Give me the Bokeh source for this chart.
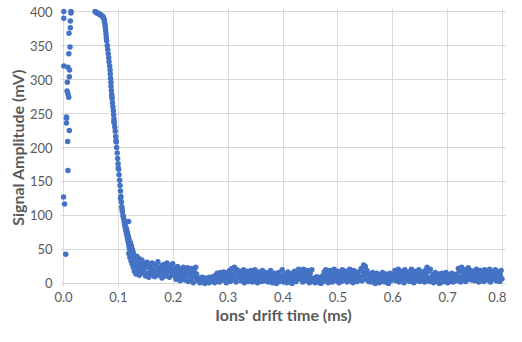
from bokeh.plotting import figure
from bokeh.models import Range1d, FixedTicker, NumeralTickFormatter
from bokeh.embed import file_html
from bokeh.resources import INLINE

# ---- data ----
x_ticks = [0.0, 0.1, 0.2, 0.3, 0.4, 0.5, 0.6, 0.7, 0.8]
y_ticks = [0, 50, 100, 150, 200, 250, 300, 350, 400]

# scattered early points near t = 0
early_x = [0.0005, 0.0136, 0.0136, 0.0005, 0.0124, 0.0124, 0.0100, 0.0118, 0.0097,
           0.0005, 0.0080, 0.0110, 0.0106, 0.0070, 0.0065, 0.0080, 0.0095,
           0.0053, 0.0055, 0.0053, 0.0106, 0.0076, 0.0080, 0.0000, 0.0018, 0.0040]
early_y = [400, 400, 398, 390, 386, 376, 368, 348, 338,
           320, 318, 314, 304, 296, 283, 279, 274,
           245, 243, 236, 225, 209, 166, 127, 117, 43]

# main signal decay
peak_x = [0.0575, 0.0590, 0.0605, 0.0620, 0.0635, 0.0650, 0.0665, 0.0680, 0.0695, 0.0710,
          0.0722, 0.0732, 0.0742, 0.0748, 0.0755, 0.0762, 0.0768, 0.0774, 0.0780, 0.0786,
          0.0798, 0.0806, 0.0816, 0.0824, 0.0830, 0.0840, 0.0848, 0.0852, 0.0858, 0.0864,
          0.0866, 0.0872, 0.0878, 0.0886, 0.0892, 0.0900, 0.0908, 0.0914, 0.0920, 0.0926,
          0.0934, 0.0942, 0.0950, 0.0960, 0.0968, 0.0978, 0.0986, 0.0994, 0.1004, 0.1012,
          0.1022, 0.1030, 0.1038, 0.1046, 0.1054, 0.1062, 0.1072, 0.1084, 0.1096, 0.1106,
          0.1116, 0.1126, 0.1136, 0.1146, 0.1156, 0.1166, 0.1176, 0.1186, 0.1196, 0.1206,
          0.1216, 0.1228, 0.1240, 0.1252, 0.1266, 0.1280,
          0.0880, 0.0918, 0.0956, 0.0998, 0.1040, 0.1066, 0.1090, 0.1112, 0.1186, 0.1130,
          0.1148, 0.1160, 0.1172, 0.1184, 0.1194, 0.1204, 0.1214, 0.1226, 0.1236, 0.1246,
          0.1258, 0.1270, 0.1284, 0.1296, 0.1310, 0.1220, 0.1238, 0.1256, 0.1274, 0.1292]
peak_y = [400, 399, 398, 398, 397, 396, 396, 395, 394, 393,
          392, 390, 388, 385, 381, 377, 372, 367, 362, 357,
          350, 344, 338, 332, 326, 320, 314, 308, 302, 296,
          290, 284, 278, 272, 266, 260, 254, 248, 242, 236,
          230, 224, 216, 208, 200, 192, 184, 176, 168, 160,
          152, 144, 136, 128, 120, 113, 106, 100, 95, 90,
          86, 82, 78, 74, 70, 66, 62, 58, 55, 52,
          49, 46, 42, 38, 34, 30,
          275, 238, 210, 170, 125, 110, 98, 92, 91, 84,
          80, 76, 72, 68, 64, 61, 57, 54, 50, 47,
          44, 40, 37, 34, 31, 60, 55, 50, 45, 40]

# noisy baseline after the peak
base_x = [0.1190, 0.1200, 0.1210, 0.1220, 0.1230, 0.1240, 0.1250, 0.1260, 0.1270, 0.1280, 0.1290,
          0.1300, 0.1310, 0.1320, 0.1330, 0.1340, 0.1350, 0.1360, 0.1370, 0.1380, 0.1390,
          0.1400, 0.1410, 0.1420, 0.1430, 0.1440, 0.1450,
          0.1465, 0.1480, 0.1495, 0.1510, 0.1525, 0.1540, 0.1555, 0.1570, 0.1585, 0.1600,
          0.1615, 0.1630, 0.1645, 0.1660, 0.1675, 0.1690, 0.1705, 0.1720, 0.1735, 0.1750,
          0.1765, 0.1780, 0.1795, 0.1810, 0.1825, 0.1840, 0.1855, 0.1870, 0.1885, 0.1900,
          0.1915, 0.1930, 0.1945, 0.1960, 0.1975, 0.1990, 0.2005,
          0.2020, 0.2035, 0.2050, 0.2065, 0.2080, 0.2095, 0.2110, 0.2125, 0.2140, 0.2155,
          0.2170, 0.2185, 0.2200, 0.2215, 0.2230, 0.2245, 0.2260, 0.2275, 0.2290, 0.2305,
          0.2320, 0.2335, 0.2350, 0.2365, 0.2380, 0.2395, 0.2410, 0.2425, 0.2440,
          0.2455, 0.2470, 0.2485, 0.2500, 0.2515, 0.2530, 0.2545, 0.2560, 0.2575, 0.2590,
          0.2605, 0.2620, 0.2635, 0.2650, 0.2665, 0.2680, 0.2695,
          0.2710, 0.2725, 0.2740, 0.2755, 0.2770, 0.2785, 0.2800, 0.2815, 0.2830, 0.2845,
          0.2860, 0.2875, 0.2890, 0.2905, 0.2920, 0.2935, 0.2950, 0.2965, 0.2980, 0.2995,
          0.3010, 0.3025, 0.3040, 0.3055, 0.3070, 0.3085, 0.3100, 0.3115, 0.3130, 0.3145,
          0.3160, 0.3175, 0.3190, 0.3205,
          0.3220, 0.3235, 0.3250, 0.3265, 0.3280, 0.3295, 0.3310, 0.3325, 0.3340, 0.3355,
          0.3370, 0.3385, 0.3400, 0.3415, 0.3430, 0.3445, 0.3460, 0.3475, 0.3490, 0.3505,
          0.3520, 0.3535, 0.3550, 0.3565, 0.3580, 0.3595, 0.3610, 0.3625, 0.3640, 0.3655,
          0.3670, 0.3685, 0.3700,
          0.3715, 0.3730, 0.3745, 0.3760, 0.3775, 0.3790, 0.3805, 0.3820, 0.3835, 0.3850,
          0.3865, 0.3880, 0.3895, 0.3910, 0.3925, 0.3940, 0.3955, 0.3970, 0.3985, 0.4000,
          0.4015, 0.4030, 0.4045, 0.4060, 0.4075, 0.4090, 0.4105, 0.4120, 0.4135, 0.4150,
          0.4165, 0.4180, 0.4195, 0.4210, 0.4225, 0.4240, 0.4255, 0.4270, 0.4285, 0.4300,
          0.4315, 0.4330, 0.4345, 0.4360, 0.4375, 0.4390, 0.4405, 0.4420, 0.4435, 0.4450,
          0.4465, 0.4480, 0.4495, 0.4510, 0.4525, 0.4540,
          0.4555, 0.4570, 0.4585, 0.4600, 0.4615, 0.4630, 0.4645, 0.4660, 0.4675, 0.4690, 0.4705,
          0.4720, 0.4735, 0.4750, 0.4765, 0.4780, 0.4795, 0.4810, 0.4825, 0.4840, 0.4855,
          0.4870, 0.4885, 0.4900, 0.4915, 0.4930, 0.4945, 0.4960, 0.4975, 0.4990, 0.5005,
          0.5020, 0.5035, 0.5050, 0.5065, 0.5080, 0.5095, 0.5110, 0.5125, 0.5140, 0.5155,
          0.5170, 0.5185, 0.5200, 0.5215, 0.5230, 0.5245, 0.5260, 0.5275, 0.5290, 0.5305,
          0.5320, 0.5335, 0.5350, 0.5365, 0.5380, 0.5395,
          0.5410, 0.5425, 0.5440, 0.5455, 0.5470, 0.5485, 0.5500, 0.5515, 0.5530, 0.5545, 0.5560,
          0.5575, 0.5590, 0.5605, 0.5620, 0.5635, 0.5650, 0.5665, 0.5680, 0.5695, 0.5710,
          0.5725, 0.5740, 0.5755, 0.5770, 0.5785, 0.5800, 0.5815, 0.5830, 0.5845, 0.5860,
          0.5875, 0.5890, 0.5905, 0.5920, 0.5935, 0.5950, 0.5965, 0.5980, 0.5995, 0.6010,
          0.6025, 0.6040, 0.6055, 0.6070, 0.6085, 0.6100, 0.6115, 0.6130, 0.6145, 0.6160,
          0.6175, 0.6190, 0.6205, 0.6220, 0.6235, 0.6250, 0.6265, 0.6280, 0.6295, 0.6310,
          0.6325, 0.6340, 0.6355, 0.6370, 0.6385, 0.6400, 0.6415, 0.6430, 0.6445, 0.6460,
          0.6475, 0.6490, 0.6505, 0.6520, 0.6535, 0.6550, 0.6565, 0.6580, 0.6595,
          0.6610, 0.6625, 0.6640, 0.6655, 0.6670, 0.6685, 0.6700,
          0.6715, 0.6730, 0.6745, 0.6760, 0.6775, 0.6790, 0.6805, 0.6820, 0.6835, 0.6850,
          0.6865, 0.6880, 0.6895, 0.6910, 0.6925, 0.6940, 0.6955, 0.6970, 0.6985, 0.7000,
          0.7015, 0.7030, 0.7045, 0.7060, 0.7075, 0.7090, 0.7105, 0.7120, 0.7135, 0.7150,
          0.7165, 0.7180, 0.7195, 0.7210, 0.7225, 0.7240, 0.7255, 0.7270, 0.7285, 0.7300,
          0.7315, 0.7330, 0.7345, 0.7360, 0.7375, 0.7390, 0.7405, 0.7420, 0.7435, 0.7450,
          0.7465, 0.7480, 0.7495, 0.7510, 0.7525, 0.7540, 0.7555, 0.7570, 0.7585, 0.7600,
          0.7615, 0.7630, 0.7645, 0.7660, 0.7675, 0.7690, 0.7705, 0.7720, 0.7735, 0.7750,
          0.7765, 0.7780, 0.7795, 0.7810, 0.7825, 0.7840, 0.7855, 0.7870, 0.7885, 0.7900,
          0.7915, 0.7930, 0.7945, 0.7960, 0.7975, 0.7990]
base_y = [44, 52, 38, 47, 33, 42, 29, 36, 24, 31, 18,
          20, 37, 14, 28, 40, 17, 33, 24, 12, 36,
          21, 29, 15, 34, 19, 26,
          18, 29, 11, 24, 31, 15, 9, 25, 21, 13,
          30, 17, 22, 10, 27, 19, 14, 32, 12, 23,
          16, 26, 8, 20, 28, 14, 24, 11, 30, 18,
          22, 9, 26, 15, 20, 29, 12,
          14, 22, 6, 17, 25, 10, 19, 4, 21, 13,
          8, 24, 16, 5, 20, 11, 23, 3, 15, 18,
          7, 22, 12, 1, 19, 9, 24, 14, 5,
          4, 8, 1, 6, 2, 9, 3, 7, 0, 5,
          8, 2, 6, 1, 9, 4, 7,
          3, 10, 6, 1, 12, 8, 15, 4, 11, 2,
          16, 9, 13, 5, 17, 7, 14, 1, 10, 16,
          8, 19, 3, 14, 22, 11, 6, 24, 16, 2,
          20, 9, 13, 18,
          12, 4, 17, 9, 20, 1, 14, 7, 18, 11,
          3, 16, 6, 19, 10, 2, 13, 8, 20, 5,
          15, 1, 11, 17, 7, 14, 3, 19, 9, 12,
          4, 16, 6,
          10, 2, 14, 6, 19, 8, 1, 12, 4, 15,
          9, 0, 13, 7, 16, 3, 11, 5, 20, 9,
          2, 14, 6, 12, 1, 17, 8, 4, 13, 10,
          0, 15, 5, 18, 11, 3, 16, 7, 21, 12,
          6, 18, 10, 2, 21, 13, 7, 16, 4, 19,
          11, 1, 15, 8, 20, 5,
          3, 8, 1, 6, 10, 2, 7, 4, 9, 0, 5,
          11, 3, 17, 8, 20, 5, 14, 1, 12, 19,
          7, 15, 2, 10, 21, 6, 13, 4, 18, 9,
          1, 16, 11, 3, 20, 7, 14, 5, 18, 10,
          2, 13, 8, 21, 4, 16, 12, 1, 19, 6,
          15, 9, 3, 17, 11, 7,
          9, 22, 4, 17, 27, 12, 25, 6, 19, 14, 3,
          7, 14, 2, 10, 16, 4, 12, 0, 8, 15,
          5, 11, 1, 13, 9, 3, 16, 6, 10, 2,
          14, 7, 12, 0, 9, 15, 4, 11, 6, 13,
          10, 19, 4, 14, 8, 21, 2, 16, 11, 6,
          18, 13, 1, 20, 9, 15, 5, 12, 17, 3,
          10, 21, 7, 14, 1, 18, 11, 5, 16, 8,
          20, 3, 13, 9, 17, 6, 12, 2, 19,
          12, 24, 6, 18, 3, 21, 9,
          5, 13, 1, 9, 16, 7, 11, 3, 14, 0,
          10, 6, 15, 2, 12, 8, 4, 16, 9, 1,
          13, 6, 11, 3, 15, 8, 2, 12, 5, 10,
          14, 4, 22, 9, 18, 2, 24, 11, 7, 20,
          15, 3, 17, 10, 23, 6, 13, 19, 5, 16,
          9, 18, 4, 13, 21, 7, 15, 2, 11, 19,
          6, 16, 10, 3, 20, 12, 5, 17, 8, 14,
          21, 2, 11, 18, 6, 13, 9, 20, 4, 15,
          10, 17, 3, 12, 19, 7]

all_x = early_x + peak_x + base_x
all_y = early_y + peak_y + base_y

GRAY = "#595959"
FONT = "Lato"

p = figure(width=506, height=326,
           x_range=Range1d(-0.0055, 0.8073), y_range=Range1d(-4.5, 404.5),
           output_backend="svg", toolbar_location=None, min_border=0,
           min_border_left=60, min_border_right=0, min_border_top=8, min_border_bottom=0)
p.outline_line_color = None
p.background_fill_color = "white"
p.border_fill_color = "white"

p.scatter(all_x, all_y, size=5.5, fill_color="#4472C4", line_color="#4472C4", line_width=0)

p.xaxis.ticker = FixedTicker(ticks=x_ticks)
p.xaxis.formatter = NumeralTickFormatter(format="0.0")
p.yaxis.ticker = FixedTicker(ticks=y_ticks)

for ax in (p.xaxis[0], p.yaxis[0]):
    ax.axis_line_color = None
    ax.major_tick_line_color = None
    ax.minor_tick_line_color = None
    ax.major_tick_out = 0
    ax.major_tick_in = 0
    ax.minor_tick_out = 0
    ax.minor_tick_in = 0
    ax.major_label_text_font = FONT
    ax.major_label_text_font_size = "13px"
    ax.major_label_text_color = GRAY
    ax.axis_label_text_font = FONT
    ax.axis_label_text_font_size = "16px"
    ax.axis_label_text_font_style = "bold"
    ax.axis_label_text_color = GRAY
    ax.axis_label_standoff = 0

p.xaxis.axis_label = "Ions' drift time (ms)"
p.yaxis.axis_label = "Signal Amplitude (mV)"
p.xaxis.major_label_standoff = 5
p.yaxis.major_label_standoff = 8

p.xgrid.ticker = FixedTicker(ticks=x_ticks)
p.ygrid.ticker = FixedTicker(ticks=y_ticks)
p.xgrid.grid_line_color = "#d9d9d9"
p.ygrid.grid_line_color = "#d9d9d9"

open("out.html", "w").write(file_html(p, INLINE))
